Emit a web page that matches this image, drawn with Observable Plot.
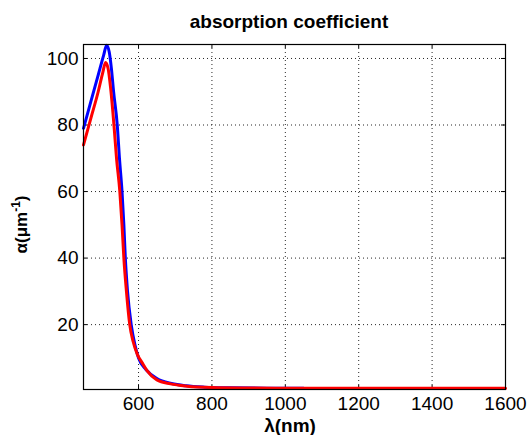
<!DOCTYPE html>
<html>
<head>
<meta charset="utf-8">
<script src="https://cdn.jsdelivr.net/npm/d3@7"></script>
<script src="https://cdn.jsdelivr.net/npm/@observablehq/plot@0.6"></script>
<style>
  html, body { margin: 0; padding: 0; background: #fff; }
  svg { display: block; }
</style>
</head>
<body>
<div id="chart"></div>
<script>
// Blue series (λ in nm, α in µm^-1)
const lambdaBlue = [450, 470, 490, 505, 513, 520, 526, 532, 542, 548, 555, 560, 564, 570, 580, 590, 600, 620, 650, 690, 730, 780, 850, 950, 1050];
const alphaBlue  = [79, 87, 95, 101, 104, 102, 97, 90, 80, 70, 60, 50, 40, 30, 20, 14, 10, 6.5, 3.8, 2.3, 1.6, 1.2, 1.0, 0.9, 0.9];
// Red series
const lambdaRed = [450, 470, 490, 503, 510, 517, 524, 533, 540, 549, 555, 560, 567, 576, 585, 597, 610, 623, 650, 687, 732, 800, 900, 1000, 1200, 1400, 1600];
const alphaRed  = [74, 82, 90, 96, 98.8, 97, 91, 80, 70, 60, 50, 40, 30, 20, 15, 11, 8.5, 6.2, 3.4, 2.2, 1.5, 1.1, 0.95, 0.9, 0.85, 0.85, 0.85];

const xTicks = [600, 800, 1000, 1200, 1400, 1600];
const yTicks = [20, 40, 60, 80, 100];

const blue = lambdaBlue.map((x, i) => ({x, y: alphaBlue[i]}));
const red = lambdaRed.map((x, i) => ({x, y: alphaRed[i]}));

const W = 531, H = 435;
const mL = 83, mR = 26, mT = 44, mB = 46;
const fw = W - mL - mR, fh = H - mT - mB;
const tk = 4;

const plot = Plot.plot({
  width: W,
  height: H,
  marginLeft: mL,
  marginRight: mR,
  marginTop: mT,
  marginBottom: mB,
  style: {fontFamily: "'Liberation Sans', Arial, sans-serif", fontSize: "19px", color: "#000", background: "#fff"},
  x: {domain: [450, 1600], ticks: xTicks},
  y: {domain: [0.5, 104.2], ticks: yTicks},
  marks: [
    Plot.ruleX(xTicks, {stroke: "#000", strokeDasharray: "1,3", strokeWidth: 1, strokeOpacity: 0.85}),
    Plot.ruleY(yTicks, {stroke: "#000", strokeDasharray: "1,3", strokeWidth: 1, strokeOpacity: 0.85}),
    Plot.ruleX(xTicks, {stroke: "#000", insetTop: fh - tk}),
    Plot.ruleX(xTicks, {stroke: "#000", insetBottom: fh - tk}),
    Plot.ruleY(yTicks, {stroke: "#000", insetRight: fw - tk}),
    Plot.ruleY(yTicks, {stroke: "#000", insetLeft: fw - tk}),
    Plot.line(blue, {x: "x", y: "y", stroke: "#0000ff", strokeWidth: 3, curve: "monotone-x"}),
    Plot.line(red, {x: "x", y: "y", stroke: "#ff0000", strokeWidth: 3, curve: "monotone-x"}),
    Plot.frame({stroke: "#000", strokeWidth: 1.2}),
    Plot.axisX(xTicks, {tickSize: 0, tickPadding: 7, label: null, fontSize: 19, tickFormat: d => String(d)}),
    Plot.axisY(yTicks, {tickSize: 0, tickPadding: 5, label: null, fontSize: 19, tickFormat: d => String(d)})
  ]
});

const svg = d3.select(plot);
const font = "'Liberation Sans', Arial, sans-serif";
svg.append("text")
  .attr("x", mL + fw / 2 - 5).attr("y", 28)
  .attr("text-anchor", "middle")
  .attr("font-family", font).attr("font-size", 19).attr("font-weight", "bold")
  .attr("fill", "#000")
  .text("absorption coefficient");
svg.append("text")
  .attr("x", mL + fw / 2 - 4).attr("y", 432)
  .attr("text-anchor", "middle")
  .attr("font-family", font).attr("font-size", 19).attr("font-weight", "bold")
  .attr("fill", "#000")
  .text("λ(nm)");
const yl = svg.append("text")
  .attr("transform", `translate(27, ${mT + fh / 2 + 8}) rotate(-90)`)
  .attr("text-anchor", "middle")
  .attr("font-family", font).attr("font-size", 17).attr("font-weight", "bold")
  .attr("fill", "#000");
yl.append("tspan").text("α(μm");
yl.append("tspan").attr("dy", -7).attr("font-size", 12).text("-1");
yl.append("tspan").attr("dy", 7).text(")");

document.getElementById("chart").appendChild(plot);
</script>
</body>
</html>
